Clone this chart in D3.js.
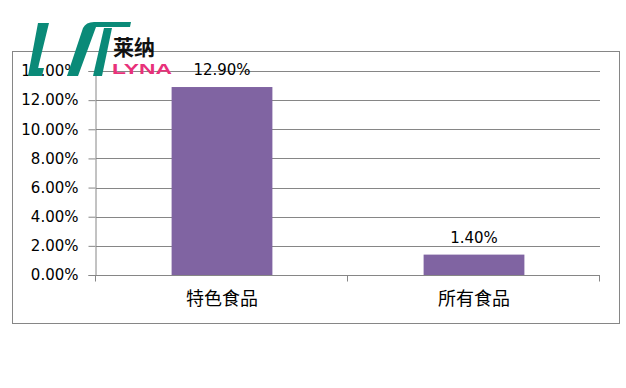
<!DOCTYPE html>
<html>
<head>
<meta charset="utf-8">
<script src="https://cdn.jsdelivr.net/npm/d3@7"></script>
<style>
  body { margin: 0; background: #fff; }
  svg { display: block; }
</style>
</head>
<body>
<svg id="chart" width="626" height="388"></svg>
<script>
// Chart data
const categories = ["特色食品", "所有食品"];
const values = [12.9, 1.4];
const yTicks = [0, 2, 4, 6, 8, 10, 12, 14];

const svg = d3.select("#chart");

// Outer frame of the chart
svg.append("rect")
  .attr("x", 12.5).attr("y", 51.5)
  .attr("width", 607).attr("height", 272)
  .attr("fill", "#fff").attr("stroke", "#868686");

const plot = { left: 96, right: 600, top: 71, bottom: 275 };

const x = d3.scaleBand()
  .domain(categories)
  .range([plot.left, plot.right])
  .paddingInner(0.6)
  .paddingOuter(0.3);

const y = d3.scaleLinear()
  .domain([0, 14])
  .range([plot.bottom, plot.top]);

// Gridlines
svg.append("g")
  .selectAll("line")
  .data(yTicks.filter((d) => d > 0))
  .join("line")
  .attr("x1", plot.left).attr("x2", plot.right)
  .attr("y1", (d) => Math.round(y(d)) + 0.5)
  .attr("y2", (d) => Math.round(y(d)) + 0.5)
  .attr("stroke", "#868686");

// Bars
svg.append("g")
  .selectAll("rect")
  .data(values)
  .join("rect")
  .attr("x", (d, i) => x(categories[i]))
  .attr("y", (d) => y(d))
  .attr("width", x.bandwidth())
  .attr("height", (d) => y(0) - y(d))
  .attr("fill", "#8064a2");

// Value labels
svg.append("g")
  .selectAll("text")
  .data(values)
  .join("text")
  .attr("x", (d, i) => x(categories[i]) + x.bandwidth() / 2)
  .attr("y", (d) => y(d) - 12)
  .attr("text-anchor", "middle")
  .attr("font-family", "DejaVu Sans")
  .attr("font-size", 15)
  .attr("fill", "#000")
  .text((d) => d.toFixed(2) + "%");

// Y axis
const yAxis = svg.append("g")
  .attr("transform", `translate(${plot.left - 0.5},0)`)
  .call(d3.axisLeft(y).tickValues(yTicks).tickSize(7).tickPadding(10)
    .tickFormat((d) => d.toFixed(2) + "%"));
yAxis.select(".domain").attr("stroke", "#868686");
yAxis.selectAll(".tick line").attr("stroke", "#868686");
yAxis.selectAll(".tick text")
  .attr("font-family", "DejaVu Sans")
  .attr("font-size", 15)
  .attr("fill", "#000");

// X axis
const xAxis = svg.append("g")
  .attr("transform", `translate(0,${plot.bottom + 0.5})`)
  .call(d3.axisBottom(x).tickSize(0).tickPadding(17));
xAxis.select(".domain").attr("stroke", "#868686").attr("d", `M${plot.left},0H${plot.right}`);
xAxis.selectAll(".tick text")
  .attr("font-family", "Noto Sans CJK SC")
  .attr("font-size", 18)
  .attr("fill", "#000");

// tick marks between categories
const bounds = [plot.left, ...categories.slice(1).map((c) => x(c) - x.step() * x.paddingInner() / 2), plot.right];
xAxis.selectAll("line.sep")
  .data(bounds)
  .join("line")
  .attr("class", "sep")
  .attr("x1", (d) => Math.round(d) - 0.5).attr("x2", (d) => Math.round(d) - 0.5)
  .attr("y1", 0).attr("y2", 6)
  .attr("stroke", "#868686");

// Logo watermark
const logo = svg.append("g");
logo.append("path")
  .attr("d", "M38,23 L49,23 L38,68 L44,68 L42,76 L28,76 Z")
  .attr("fill", "#0a8a78");
logo.append("path")
  .attr("d", "M83,28 Q86,22 94,22 L131,22 L130,27 L96,27 L78,76 L67,76 Z")
  .attr("fill", "#0a8a78");
logo.append("path")
  .attr("d", "M104,28 L112,28 L102,76 L93,76 Z")
  .attr("fill", "#0a8a78");
logo.append("text")
  .attr("x", 113).attr("y", 55)
  .attr("font-family", "Noto Sans CJK SC")
  .attr("font-weight", 700)
  .attr("font-size", 21)
  .attr("fill", "#111")
  .text("莱纳");
logo.append("text")
  .attr("x", 112).attr("y", 74)
  .attr("font-family", "Liberation Sans")
  .attr("font-weight", 700)
  .attr("font-size", 14)
  .attr("textLength", 60)
  .attr("lengthAdjust", "spacingAndGlyphs")
  .attr("fill", "#e8317a")
  .text("LYNA");
</script>
</body>
</html>
